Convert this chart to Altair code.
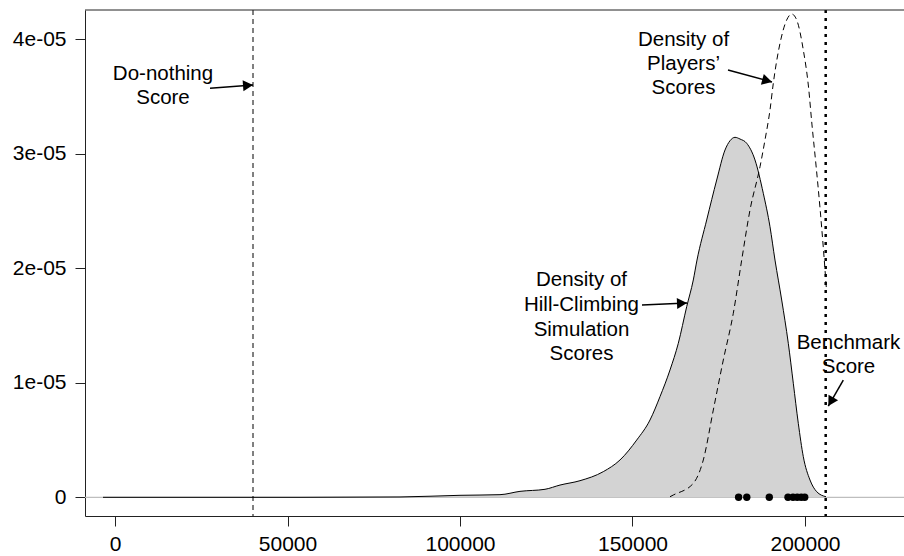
import altair as alt
import pandas as pd

# ---- data ----
hill_score = [-3478, 10145, 24638, 53623, 82609, 100000, 111594, 117391, 124638, 128986,
              134783, 141536, 146377, 151217, 155072, 157971, 160870, 163275, 165710, 167623,
              168696, 171507, 174406, 176812, 178261, 179710, 181159, 183101, 185507, 187913,
              189855, 191304, 193246, 195159, 196609, 198058, 199507, 201449, 203391, 206087]
hill_density = [0, 0, 0, 0, 3e-08, 1.75e-07, 2.3e-07, 5.2e-07, 7.0e-07, 1.07e-06,
                1.45e-06, 2.24e-06, 3.26e-06, 5.0e-06, 6.75e-06, 8.79e-06, 1.112e-05, 1.345e-05, 1.665e-05, 1.898e-05,
                2.072e-05, 2.422e-05, 2.771e-05, 3.033e-05, 3.114e-05, 3.144e-05, 3.129e-05, 3.092e-05, 2.946e-05, 2.655e-05,
                2.363e-05, 2.072e-05, 1.723e-05, 1.345e-05, 9.96e-06, 6.46e-06, 3.55e-06, 1.51e-06, 4.9e-07, 5e-08]

players_score = [160870, 161826, 167623, 170522, 173420, 176319, 179217, 181652, 184058, 186957,
                 188406, 189855, 190812, 192754, 194696, 196145, 197594, 199507, 200957, 202029,
                 203188, 204348, 205362, 206232]
players_density = [5e-08, 2.0e-07, 1.22e-06, 3.26e-06, 7.62e-06, 1.199e-05, 1.607e-05, 2.072e-05, 2.509e-05, 2.887e-05,
                   3.121e-05, 3.383e-05, 3.616e-05, 3.965e-05, 4.169e-05, 4.221e-05, 4.169e-05, 3.907e-05, 3.601e-05, 3.252e-05,
                   2.902e-05, 2.527e-05, 2.160e-05, 1.810e-05]

player_points = [180754, 183130, 189652, 195072, 196522, 197739, 198899, 199913]

do_nothing_score = 40000
benchmark_score = 206000

x_ticks = [0, 50000, 100000, 150000, 200000]
y_ticks = [0, 1e-05, 2e-05, 3e-05, 4e-05]

note_text = ["Do-nothing", "Score",
             "Density of", "Players\u2019", "Scores",
             "Density of", "Hill-Climbing", "Simulation", "Scores",
             "Benchmark", "Score"]
note_x = [13913, 13913,
          164783, 164783, 164783,
          135217, 135217, 135217, 135217,
          212609, 212609]
note_y = [3.645e-05, 3.439e-05,
          3.942e-05, 3.732e-05, 3.522e-05,
          1.845e-05, 1.627e-05, 1.409e-05, 1.199e-05,
          1.295e-05, 1.086e-05]

arrow_x = [27536, 177681, 152754, 211101]
arrow_y = [3.572e-05, 3.732e-05, 1.679e-05, 1.024e-05]
arrow_x2 = [40000, 190435, 165797, 206754]
arrow_y2 = [3.601e-05, 3.627e-05, 1.697e-05, 0.797e-05]
arrow_angle = [355.6, 15.3, 357.5, 120]

# ---- layout ----
W, H = 819, 506
FONT = "Liberation Sans"

xs = alt.Scale(domain=[-8696, 228696], nice=False, zero=False)
ys = alt.Scale(domain=[-1.633e-06, 4.2559e-05], nice=False, zero=False)

x_axis = alt.Axis(values=x_ticks, format="d", title=None, grid=False, domain=True,
                  domainColor="#222222", domainWidth=1, tickColor="#222222", tickSize=10,
                  labelFont=FONT, labelFontSize=21, labelColor="black", labelPadding=7,
                  labelFlush=False, labelOverlap=False)
y_axis = alt.Axis(values=y_ticks, title=None, grid=False, domain=True,
                  domainColor="#222222", domainWidth=1, tickColor="#222222", tickSize=10,
                  labelFont=FONT, labelFontSize=21, labelColor="black", labelPadding=9,
                  labelFlush=False, labelOverlap=False,
                  labelExpr="datum.value == 0 ? '0' : replace(format(datum.value, '.0e'), 'e-', 'e-0')")


def X(f):
    return alt.X(f, type="quantitative", scale=xs, axis=x_axis)


def Y(f):
    return alt.Y(f, type="quantitative", scale=ys, axis=y_axis)


hill_df = pd.DataFrame({"x": hill_score, "y": hill_density, "zero": [0] * len(hill_score)})
play_df = pd.DataFrame({"x": players_score, "y": players_density})
pts_df = pd.DataFrame({"x": player_points, "y": [0] * len(player_points)})
note_df = pd.DataFrame({"x": note_x, "y": note_y, "t": note_text})
arr_df = pd.DataFrame({"x": arrow_x, "y": arrow_y, "x2": arrow_x2, "y2": arrow_y2, "a": arrow_angle})
zero_df = pd.DataFrame({"y": [0]})
dn_df = pd.DataFrame({"x": [do_nothing_score]})
bm_df = pd.DataFrame({"x": [benchmark_score]})

baseline = alt.Chart(zero_df).mark_rule(color="#BEBEBE", strokeWidth=1.2).encode(
    y=Y("y"), x=alt.value(0), x2=alt.value(W))

top_border = alt.Chart(zero_df).mark_rule(color="#222222", strokeWidth=1).encode(
    y=alt.value(0), x=alt.value(0), x2=alt.value(W))

hill_area = alt.Chart(hill_df).mark_area(color="#D3D3D3", interpolate="monotone").encode(
    x=X("x"), y=Y("y"), y2="zero:Q")

hill_line = alt.Chart(hill_df).mark_line(color="black", strokeWidth=1, interpolate="monotone").encode(
    x=X("x"), y=Y("y"))

play_line = alt.Chart(play_df).mark_line(color="black", strokeWidth=1, strokeDash=[6, 4],
                                          interpolate="monotone").encode(x=X("x"), y=Y("y"))

dn_rule = alt.Chart(dn_df).mark_rule(color="black", strokeWidth=1, strokeDash=[5, 4]).encode(x=X("x"))
bm_rule = alt.Chart(bm_df).mark_rule(color="black", strokeWidth=2.5, strokeDash=[3, 5]).encode(x=X("x"))

pts = alt.Chart(pts_df).mark_circle(color="black", opacity=1, size=55).encode(x=X("x"), y=Y("y"))

notes = alt.Chart(note_df).mark_text(font=FONT, fontSize=20.5, color="black", align="center",
                                     baseline="alphabetic").encode(x=X("x"), y=Y("y"), text="t:N")

arrow_lines = alt.Chart(arr_df).mark_rule(color="black", strokeWidth=1.5).encode(
    x=X("x"), y=Y("y"), x2="x2:Q", y2="y2:Q")

arrow_heads = alt.Chart(arr_df).mark_point(shape="M0,0L-1,-0.55L-1,0.55Z", filled=True, color="black",
                                           opacity=1, size=400, strokeWidth=0).encode(
    x=X("x2"), y=Y("y2"), angle=alt.Angle("a:Q", scale=None))

chart = alt.layer(baseline, hill_area, hill_line, play_line, dn_rule, bm_rule, pts, notes,
                  arrow_lines, arrow_heads, top_border).properties(
    width=W, height=H,
    autosize=alt.AutoSizeParams(type="none"),
    padding={"left": 85, "top": 10, "right": 0, "bottom": 40},
    background="white",
).configure_view(strokeWidth=0)

chart.save("out.html", embed_options={"renderer": "svg", "actions": False})
